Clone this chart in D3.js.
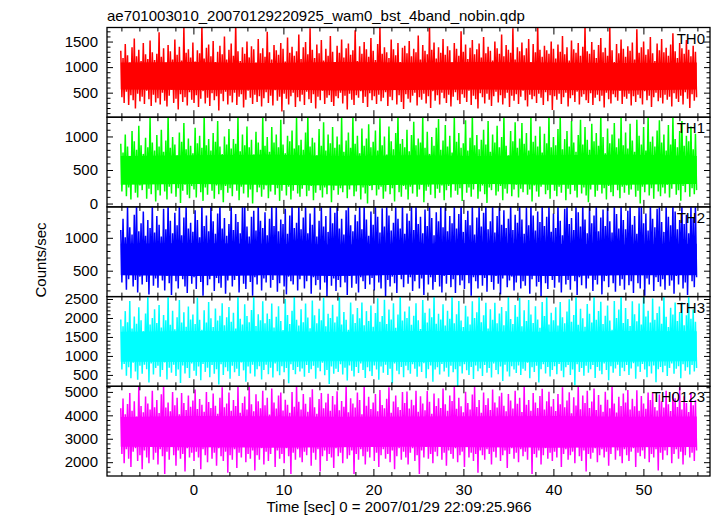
<!DOCTYPE html>
<html><head><meta charset="utf-8">
<script src="https://cdn.jsdelivr.net/npm/d3@7"></script>
<style>
html,body{margin:0;padding:0;background:#fff;}
svg{display:block;font-family:"Liberation Sans",Arial,Helvetica,sans-serif;}
</style></head><body>
<svg id="chart" width="717" height="516"></svg>
<script>
// ---------------- data ----------------
const title = "ae701003010_20070129220925_wam0_bst_4band_nobin.qdp";
const xLabel = "Time [sec] 0 = 2007/01/29 22:09:25.966";
const yLabel = "Counts/sec";
const bandNames = ["TH0", "TH1", "TH2", "TH3", "TH0123"];
const bandColors = ["#ff0000", "#00ff00", "#0000ff", "#00ffff", "#ff00ff"];

const xDomain = [-9.6, 57.4];
const xMajorTicks = [0, 10, 20, 30, 40, 50];
const xMinorTicks = [-8, -6, -4, -2, 2, 4, 6, 8, 12, 14, 16, 18, 22, 24, 26, 28, 32, 34, 36, 38, 42, 44, 46, 48, 52, 54, 56];

const yDomains = [[20, 1775], [-50, 1287], [106, 1470], [200, 2563], [1410, 5240]];
const yMajorTicks = [[500, 1000, 1500], [0, 500, 1000], [500, 1000], [500, 1000, 1500, 2000, 2500], [2000, 3000, 4000, 5000]];
const yMinorStep = [100, 100, 100, 100, 200];

// light curves: extremes of successive 1/8 s slices (alternating high / low)
const tStart = -8.07;
const binSize = 0.1252;

const th0 = [
1320,410,1180,300,1450,520,1230,260,1090,450,1390,350,1560,190,1210,480,1340,330,1120,420,1470,280,1250,540,1160,370,1520,240,1290,460,1140,310,
1260,390,1680,270,1200,500,1370,340,1080,230,1430,440,1310,560,1150,300,1540,380,1240,170,1400,470,1130,320,1790,410,1280,250,1350,510,1190,360,
1480,300,1110,450,1330,220,1270,380,1800,530,1170,290,1380,400,1440,240,1210,490,1510,350,1100,430,1300,150,1420,480,1250,330,1600,520,1150,270,
1340,440,1460,310,1220,500,1850,260,1310,420,1120,470,1390,210,1260,360,1500,540,1190,400,1410,280,1350,460,1090,320,1550,430,1270,230,1370,390,
1200,510,1690,300,1290,440,1150,250,1430,550,1330,340,1240,420,1470,130,1360,480,1110,380,1580,270,1280,430,1400,500,1220,220,1310,410,1640,330,
1160,460,1390,260,1490,520,1250,370,1760,300,1340,470,1180,190,1440,420,1270,350,1530,540,1130,280,1360,400,1220,450,1610,320,1300,240,1080,430,
1420,390,1280,500,1540,290,1190,440,1370,170,1460,480,1240,360,1330,260,1720,450,1120,400,1410,530,1260,300,1490,420,1350,220,1200,490,1570,350,
1320,430,1140,280,1450,460,1780,330,1260,400,1390,510,1290,240,1180,420,1540,350,1350,560,1230,270,1470,450,1100,320,1380,180,1420,470,1270,380,
1510,310,1210,440,1360,500,1290,250,1620,410,1150,360,1430,480,1320,290,1250,430,1810,200,1340,530,1480,340,1170,450,1390,270,1280,500,1550,390,
1240,300,1410,460,1330,230,1090,420,1470,510,1360,350,1220,280,1700,470,1300,400,1440,320,1160,540,1380,260,1530,440,1250,370,1350,190,1460,490,
1190,410,1590,290,1270,480,1400,360,1320,240,1130,430,1500,520,1370,310,1260,450,1640,270,1210,390,1430,500,1340,220,1280,440,1760,340,1150,470,
1390,280,1310,420,1480,540,1230,350,1370,230,1550,460,1100,370,1450,430,1290,300,1830,480,1340,400,1200,260,1420,510,1330,330,1260,450,1500,160,
1360,430,1170,360,1440,480,1300,280,1610,410,1250,500,1390,230,1130,390,1520,450,1350,320,1280,520,1470,270,1220,420,1400,470,1790,350,1310,300,
1260,490,1490,260,1340,400,1180,460,1430,330,1570,440,1290,210,1380,500,1220,370,1780,290,1330,470,1100,410,1450,340,1270,540,1540,280,1360,420,
1200,380,1410,480,1320,250,1480,430,1150,320,1740,460,1280,390,1390,270,1500,530,1240,350,1350,440,1590,220,1270,410,1120,500,1460,330,1330,400,
1550,290,1290,460,1380,360,1220,420,1440,230,1660,490,1310,380,1180,320,1470,440,1370,270,1260,510,1530,380,1340,200,1210,470,1420,340,1300,410
];
const th1 = [
890,180,760,290,1030,110,850,240,710,60,1080,300,930,160,800,90,1160,270,870,200,740,330,980,70,840,220,1290,140,910,300,790,30,
1020,200,850,120,1100,310,770,180,940,60,1310,250,830,150,990,340,880,100,720,230,1060,10,920,190,1200,280,810,130,970,80,860,260,
750,210,1130,90,900,300,1010,170,830,40,1330,240,870,130,960,320,790,190,1050,70,920,270,1230,140,850,200,740,20,1000,260,880,160,
1110,230,820,110,960,330,890,190,1290,50,780,250,1030,150,870,290,1150,90,840,210,950,0,730,310,1070,170,910,240,800,100,1300,210,
860,270,990,80,770,180,1140,300,910,130,1030,230,840,40,1250,190,880,320,750,120,1010,250,930,60,1090,190,820,280,1280,150,870,100,
950,220,800,330,1060,110,1320,190,850,260,980,50,910,160,720,300,1110,200,860,90,1210,240,790,140,1030,290,900,20,1140,200,830,270,
1000,130,880,230,1290,170,770,310,940,80,1060,210,830,280,1300,110,890,180,1010,340,750,60,1120,240,860,150,970,0,1180,260,840,200,
920,300,1090,120,790,210,1270,250,870,70,1000,180,730,320,1150,140,930,230,810,30,1050,280,1310,170,890,100,960,260,840,210,1100,60,
780,250,1020,150,1220,330,870,100,970,210,910,280,1300,20,830,190,1070,250,740,130,990,300,860,80,1130,220,1260,160,800,270,940,50,
1170,200,850,260,1010,90,760,310,1290,190,920,130,1050,230,830,40,900,290,1240,160,790,240,980,100,1330,210,870,320,1020,70,810,180,
950,270,1100,140,880,10,1230,240,770,200,1030,300,910,120,1160,180,840,260,990,50,1310,220,860,150,720,330,1080,110,930,210,1210,280,
830,90,970,220,1200,170,890,310,1050,130,790,210,1280,30,920,270,1010,180,850,100,1150,250,760,320,1040,140,900,200,1320,70,840,290,
990,190,870,110,1110,250,1300,160,810,300,960,50,1080,220,850,140,1230,280,910,190,770,90,1020,340,1250,150,880,240,1140,120,950,20,
800,210,1190,290,930,100,1050,190,860,320,1310,150,990,230,750,60,1120,260,900,170,1030,110,1200,300,840,200,970,80,1290,250,870,160,
1060,270,820,130,1190,210,940,330,770,100,1250,190,1010,0,880,250,1140,170,790,300,1300,120,920,230,1000,70,850,310,1090,180,1240,110,
910,240,1030,150,790,280,1170,90,880,220,1290,310,960,130,840,200,1080,40,1230,260,860,170,1010,320,930,100,1150,230,810,140,1040,200
];
const th2 = [
1120,320,1290,440,1010,210,1480,370,1160,480,1050,260,1350,360,1510,170,1100,410,1220,290,1400,500,1030,330,1270,140,1150,450,1500,270,1080,380,
1330,240,1200,490,1020,350,1440,200,1130,420,1520,310,1260,130,1070,470,1380,340,1190,230,1500,440,1040,370,1310,260,1490,160,1140,500,1230,300,
1090,400,1420,220,1270,460,1010,330,1510,120,1180,430,1340,280,1100,370,1490,480,1250,190,1060,390,1370,310,1520,240,1140,460,1300,150,1030,350,
1210,480,1500,260,1120,360,1360,420,1240,170,1070,470,1470,300,1510,220,1170,440,1020,330,1320,120,1410,400,1110,290,1500,490,1260,200,1150,380,
1390,320,1040,460,1290,240,1520,360,1180,430,1500,180,1100,310,1280,480,1210,260,1440,140,1060,410,1340,340,1510,290,1150,470,1230,200,1490,370,
1130,430,1310,230,1500,340,1070,490,1370,150,1200,400,1510,280,1020,360,1260,210,1460,460,1170,320,1330,110,1090,420,1500,270,1220,380,1380,190,
1510,360,1140,250,1290,450,1050,320,1420,130,1500,420,1190,240,1100,470,1350,300,1250,170,1490,400,1130,340,1520,220,1280,490,1030,290,1400,390,
1200,200,1480,430,1320,320,1080,230,1450,460,1170,110,1500,360,1340,260,1110,410,1230,310,1490,160,1290,450,1140,370,1510,250,1060,480,1370,300,
1260,400,1500,190,1120,340,1520,440,1210,230,1320,380,1070,130,1430,460,1180,290,1500,400,1300,210,1040,330,1390,470,1250,260,1510,170,1160,420,
1480,300,1100,460,1330,250,1220,370,1500,160,1140,430,1360,280,1520,350,1090,220,1270,490,1410,310,1190,120,1500,400,1050,340,1310,230,1490,450,
1170,270,1380,390,1510,180,1130,480,1250,330,1500,210,1080,420,1330,300,1490,140,1200,380,1420,470,1150,250,1290,350,1520,410,1120,200,1350,320,
1230,440,1500,230,1280,340,1060,270,1470,430,1190,150,1510,370,1340,470,1110,260,1400,330,1240,110,1500,420,1180,310,1320,220,1490,480,1090,360,
1370,240,1150,420,1500,320,1260,170,1040,460,1440,290,1520,360,1210,210,1300,450,1120,340,1500,130,1390,400,1170,280,1510,470,1280,230,1070,380,
1490,430,1220,190,1340,360,1520,290,1100,480,1310,140,1430,340,1180,420,1500,250,1250,460,1080,310,1510,180,1360,440,1140,270,1500,370,1270,210,
1130,450,1410,280,1510,340,1200,160,1330,480,1060,310,1480,230,1500,430,1220,120,1370,380,1110,290,1510,460,1290,190,1160,400,1440,330,1500,260,
1240,370,1090,210,1500,470,1320,270,1190,350,1520,150,1400,420,1130,290,1270,480,1500,230,1210,320,1350,130,1070,450,1480,340,1300,250,1510,400
];
const th3 = [
1960,640,1780,790,2180,480,1890,700,2450,410,1720,820,2040,590,1850,370,2280,740,1940,530,1650,770,2120,650,2600,300,1830,800,2000,510,2230,680,
1870,740,2340,450,1750,630,2080,830,1940,380,2600,690,1820,560,2190,770,1700,470,2020,640,2470,290,1880,750,2150,540,1770,680,2300,420,1960,800,
2090,610,1840,480,2540,720,1950,360,1690,790,2200,580,1880,690,2420,440,1990,760,1760,530,2250,650,1930,250,2060,780,2390,500,1810,700,2020,600,
2290,400,1900,740,2140,570,1720,660,2600,470,1980,830,1830,620,2360,320,2050,720,1890,540,2210,770,2580,460,1790,650,2100,730,1940,380,2440,630,
1860,770,2120,520,1970,690,2380,430,1750,800,2030,600,2310,490,1920,730,1680,570,2500,680,2080,280,1840,780,2190,630,2600,520,1950,710,1800,590,
2230,670,1890,450,2380,760,2010,550,1730,650,2460,740,2070,400,1860,690,2240,600,1940,820,2540,490,1780,630,2110,260,2000,720,2350,530,1880,660,
2040,580,2600,780,1830,510,2160,690,1950,350,1690,750,2410,610,2100,460,1870,710,2260,550,1990,800,2410,630,1810,420,2180,700,1920,600,2330,470,
1770,750,2130,640,2520,370,1900,720,2050,560,2480,770,1840,500,2220,660,1960,280,2390,800,1740,610,2090,520,2600,710,1930,440,2170,740,2000,620,
2300,530,1820,780,2060,660,2390,450,1940,720,1710,580,2470,810,2140,410,1880,650,2250,750,2020,320,2600,640,1850,700,2110,510,1960,790,2360,590,
1800,690,2190,450,1980,740,2570,570,1860,650,2100,210,2450,730,1930,540,1760,780,2320,620,2040,500,1830,710,2440,390,2000,750,2150,600,2600,670,
1890,470,2070,760,2400,560,1720,680,2230,430,1950,800,2400,630,1860,520,2120,720,2290,340,1810,770,2180,590,2600,460,1970,730,1840,640,2340,550,
2030,750,2530,500,1780,660,2200,610,1920,820,2470,410,2090,700,1870,580,2310,740,1960,300,1740,650,2420,780,2050,540,2600,710,1830,460,2140,630,
1940,730,2280,520,1800,790,2420,610,2020,440,1860,700,2170,760,2490,500,1900,640,2080,230,2600,780,1820,580,2240,680,1990,480,1770,740,2370,560,
2110,650,1880,760,2560,420,1950,710,2180,610,2430,520,1840,800,2060,630,2330,360,1930,730,1690,560,2450,670,2000,770,2220,470,2600,690,1870,600,
2260,760,1970,500,1790,670,2440,810,2100,400,1910,720,2380,580,1830,790,2600,640,2040,440,2190,730,1880,540,2510,750,1950,310,2130,650,2300,710,
1850,570,2600,740,2030,470,1760,680,2270,800,2090,530,2410,660,1920,730,2160,410,2410,780,1810,610,2070,700,2590,510,1980,760,2230,590,1900,680
];
const th0123 = [
4300,2350,4720,1950,4050,2550,4480,2150,4950,1800,4200,2450,4600,2600,3950,2050,5250,2300,4400,1700,4130,2500,4800,2200,4500,1950,4250,2650,5050,2100,4350,2400,
4650,1900,4100,2550,4900,2250,5300,1500,4330,2450,4550,2100,4170,2650,5000,2300,4430,1850,4750,2500,4050,2150,4950,2350,4530,1600,4230,2600,4850,2200,4370,2400,
4630,2050,5100,2450,4270,2200,4700,1700,4450,2550,4150,2300,5000,2000,4570,2700,4310,2150,4930,2400,4410,1850,4070,2600,4750,2250,5200,2050,4340,2450,4500,1550,
4970,2300,4200,2100,4650,2550,4400,1750,5250,2400,4110,2200,4530,2650,4800,2000,4250,2350,5300,2150,4470,2500,4170,1650,4900,2300,4600,2100,4300,2600,5050,1900,
4430,2450,4750,2050,4030,2350,5150,2700,4550,1800,4290,2500,4850,2150,4980,2350,4210,1950,4670,2600,4450,2250,4110,1500,5000,2400,4370,2100,5300,2550,4580,2200,
4250,2000,4910,2450,4490,2300,4150,2650,4770,1850,5110,2400,4350,2100,4070,2550,4700,1600,4950,2250,4300,2500,4550,2050,4920,2350,4190,2200,4830,1750,4460,2600,
5030,2250,4220,2400,4610,1950,4370,2700,5250,2150,4130,2300,4730,2500,4500,1500,4330,2350,4970,2100,4650,2550,4050,2250,5300,1900,4410,2450,4790,2200,4270,2650,
4550,2050,4910,2400,4170,1800,5080,2300,4440,2550,4300,2150,4710,2350,5200,2000,4110,2500,4590,1700,4850,2250,4350,2600,4230,2100,5000,2450,4530,2200,5020,1900,
4290,2400,4670,2600,4430,2050,5050,2300,4150,1500,4810,2500,4500,2200,4220,2650,5040,2150,4580,2350,4070,1950,4930,2450,4400,2250,4730,2700,4310,2100,5150,2400,
4470,1850,4200,2500,4850,2350,4610,2150,5300,2600,4280,2000,4750,2300,4390,2450,4130,1800,5010,2650,4530,2200,4250,2400,4890,2050,5220,2350,4360,1550,4650,2500,
4110,2300,4970,2100,4440,2550,4730,2350,4230,1900,5100,2450,4550,2200,4330,2650,4810,2050,4960,2300,4410,2500,4170,1750,4910,2350,4630,2600,4290,2150,5050,2400,
4490,2000,4750,2550,4140,2250,5270,2450,4450,2100,4650,2700,4200,1500,4950,2350,4550,2200,4310,2500,4830,1900,5130,2300,4250,2600,4600,2150,5010,2400,4380,2050,
4700,2450,4180,2200,4910,2650,4470,1800,5200,2350,4340,2550,4630,2100,4990,2300,4090,2450,4770,1950,4420,2700,5300,2250,4260,2050,4850,2500,4530,1600,5050,2350,
4310,2150,4590,2400,5150,2600,4230,2000,4870,2300,4450,2550,4150,2200,5010,2450,4660,1850,4300,2350,5250,2650,4500,2100,4120,2500,4790,2250,4400,1950,4930,2550,
4550,2300,5080,2050,4250,2450,4710,2600,4390,1800,5070,2400,4190,2250,4830,2500,4510,2150,4280,2650,4970,2000,4650,2350,4970,2200,4350,2550,4210,1650,4890,2400,
4600,2100,4330,2500,5050,2300,4470,2700,4180,1950,4910,2350,4730,2550,4360,2150,5200,2450,4250,1900,4810,2300,4530,2650,4140,2200,4990,2400,4430,2050,4650,2500
];

// dense core of each light curve (where the 1/32 s points overlap completely)
const coreTimes = [-8.07, 0, 8, 16, 24, 32, 40, 48, 55.93];
const th0CoreLo = [560, 550, 560, 540, 550, 560, 550, 540, 560];
const th0CoreHi = [1090, 1100, 1080, 1100, 1090, 1100, 1090, 1080, 1090];
const th1CoreLo = [280, 290, 280, 270, 280, 290, 280, 280, 290];
const th1CoreHi = [710, 720, 730, 710, 720, 710, 720, 730, 710];
const th2CoreLo = [430, 420, 430, 420, 440, 430, 420, 430, 430];
const th2CoreHi = [910, 920, 910, 900, 910, 920, 910, 900, 910];
const th3CoreLo = [850, 840, 850, 860, 840, 850, 840, 850, 860];
const th3CoreHi = [1640, 1660, 1650, 1640, 1660, 1650, 1640, 1660, 1650];
const th0123CoreLo = [2660, 2640, 2620, 2640, 2660, 2640, 2620, 2640, 2650];
const th0123CoreHi = [3930, 3970, 3960, 3940, 3950, 3960, 3970, 3940, 3950];

// ---------------- drawing ----------------
const series = [th0, th1, th2, th3, th0123];
const coreLo = [th0CoreLo, th1CoreLo, th2CoreLo, th3CoreLo, th0123CoreLo];
const coreHi = [th0CoreHi, th1CoreHi, th2CoreHi, th3CoreHi, th0123CoreHi];

const svg = d3.select("#chart");
const L = 107, R = 710, T = 27.5, B = 476;
const ph = (B - T) / series.length;
const x = d3.scaleLinear().domain(xDomain).range([L, R]);
const fontFamily = "'Liberation Sans', Arial, sans-serif";

const defs = svg.append("defs");

series.forEach((vals, k) => {
  const y0 = T + k * ph, y1 = y0 + ph;
  const y = d3.scaleLinear().domain(yDomains[k]).range([y1, y0]);

  defs.append("clipPath").attr("id", "clip" + k)
    .append("rect").attr("x", L).attr("y", y0).attr("width", R - L).attr("height", ph);

  const g = svg.append("g").attr("clip-path", `url(#clip${k})`);

  const area = d3.area()
    .x((d, i) => x(coreTimes[i]))
    .y0(d => y(d[0]))
    .y1(d => y(d[1]));
  g.append("path")
    .datum(coreTimes.map((t, i) => [coreLo[k][i], coreHi[k][i]]))
    .attr("d", area)
    .attr("fill", bandColors[k]);

  const line = d3.line()
    .x((d, i) => x(tStart + i * binSize))
    .y(d => y(d));
  g.append("path")
    .datum(vals)
    .attr("d", line)
    .attr("fill", "none")
    .attr("stroke", bandColors[k])
    .attr("stroke-width", 1.5)
    .attr("stroke-linejoin", "bevel");

  // axes
  const ax = svg.append("g").attr("class", "axes");
  const yMin = yDomains[k][0], yMax = yDomains[k][1];
  const step = yMinorStep[k];
  const yMinor = d3.range(Math.ceil(yMin / step) * step, yMax, step).filter(v => !yMajorTicks[k].includes(v));

  const clean = s => { s.select(".domain").remove(); s.selectAll("line").attr("stroke", "#000"); };
  const styleText = s => s.selectAll("text").attr("fill", "#000").style("font-size", "15px").style("font-family", fontFamily);

  ax.append("g").attr("transform", `translate(${L},0)`)
    .call(d3.axisLeft(y).tickValues(yMajorTicks[k]).tickSizeInner(-6).tickSizeOuter(0).tickPadding(9).tickFormat(d3.format("d")))
    .call(clean).call(styleText);
  ax.append("g").attr("transform", `translate(${L},0)`)
    .call(d3.axisLeft(y).tickValues(yMinor).tickSizeInner(-3.5).tickSizeOuter(0).tickFormat(""))
    .call(clean);
  ax.append("g").attr("transform", `translate(${R},0)`)
    .call(d3.axisRight(y).tickValues(yMajorTicks[k]).tickSizeInner(-6).tickSizeOuter(0).tickFormat(""))
    .call(clean);
  ax.append("g").attr("transform", `translate(${R},0)`)
    .call(d3.axisRight(y).tickValues(yMinor).tickSizeInner(-3.5).tickSizeOuter(0).tickFormat(""))
    .call(clean);

  // top / bottom ticks of the panel
  ax.append("g").attr("transform", `translate(0,${y0})`)
    .call(d3.axisTop(x).tickValues(xMajorTicks).tickSizeInner(-7).tickSizeOuter(0).tickFormat(""))
    .call(clean);
  ax.append("g").attr("transform", `translate(0,${y0})`)
    .call(d3.axisTop(x).tickValues(xMinorTicks).tickSizeInner(-4).tickSizeOuter(0).tickFormat(""))
    .call(clean);
  const isLast = k === series.length - 1;
  ax.append("g").attr("transform", `translate(0,${y1})`)
    .call(d3.axisBottom(x).tickValues(xMajorTicks).tickSizeInner(-7).tickSizeOuter(0).tickPadding(8)
      .tickFormat(isLast ? d3.format("d") : ""))
    .call(clean).call(styleText);
  ax.append("g").attr("transform", `translate(0,${y1})`)
    .call(d3.axisBottom(x).tickValues(xMinorTicks).tickSizeInner(-4).tickSizeOuter(0).tickFormat(""))
    .call(clean);

  // frame
  svg.append("rect").attr("x", L).attr("y", y0).attr("width", R - L).attr("height", ph)
    .attr("fill", "none").attr("stroke", "#000").attr("stroke-width", 1.3);

  // band name
  svg.append("text").attr("x", 705).attr("y", y0 + 16)
    .attr("text-anchor", "end").style("font-size", "15px").attr("fill", "#000")
    .text(bandNames[k]);
});

svg.append("text").attr("x", L).attr("y", 21).style("font-size", "15px").attr("fill", "#000").text(title);
svg.append("text").attr("x", 399).attr("y", 512).attr("text-anchor", "middle").style("font-size", "15px").attr("fill", "#000").text(xLabel);
svg.append("text").attr("transform", "translate(46,260) rotate(-90)").attr("text-anchor", "middle")
  .style("font-size", "15px").attr("fill", "#000").text(yLabel);
</script>
</body></html>
